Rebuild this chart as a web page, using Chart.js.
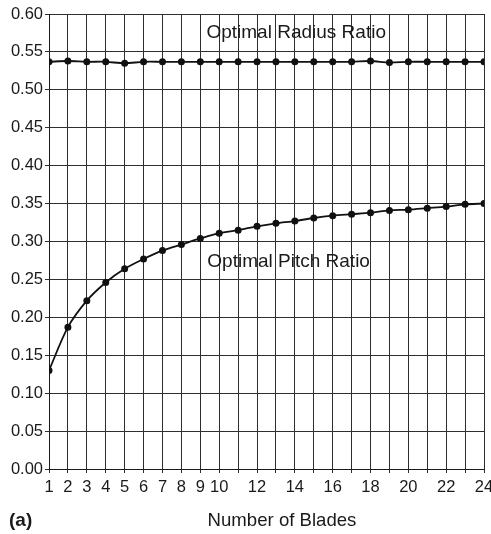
<!DOCTYPE html>
<html>
<head>
<meta charset="utf-8">
<script src="https://cdn.jsdelivr.net/npm/chart.js@4"></script>
<style>
html,body{margin:0;padding:0;background:#fff;}
#wrap{width:491px;height:534px;position:relative;}
</style>
</head>
<body>
<div id="wrap"><canvas id="c"></canvas></div>
<script>
const blades = [1,2,3,4,5,6,7,8,9,10,11,12,13,14,15,16,17,18,19,20,21,22,23,24];
const radiusRatio = [0.537,0.538,0.537,0.537,0.535,0.537,0.537,0.537,0.537,0.537,0.537,0.537,0.537,0.537,0.537,0.537,0.537,0.538,0.536,0.537,0.537,0.537,0.537,0.537];
const pitchRatio = [0.130,0.187,0.222,0.246,0.264,0.277,0.288,0.296,0.304,0.311,0.315,0.320,0.324,0.327,0.331,0.334,0.336,0.338,0.341,0.342,0.344,0.346,0.349,0.350];
const xLabelsShown = [1,2,3,4,5,6,7,8,9,10,12,14,16,18,20,22,24];
const yMin = 0, yMax = 0.60, yStep = 0.05;
const seriesLabels = ["Optimal Radius Ratio","Optimal Pitch Ratio"];
const labelAnchors = [{x:14.07,y:0.575},{x:13.67,y:0.273}];
const xTitle = "Number of Blades";
const panelTag = "(a)";

const FONT = "'Liberation Sans', Arial, Helvetica, sans-serif";

const textPlugin = {
  id:'texts',
  afterDatasetsDraw(chart){
    const {ctx, scales:{x,y}} = chart;
    ctx.save();
    ctx.fillStyle = '#1a1a1a';
    ctx.textAlign = 'center';
    ctx.textBaseline = 'middle';
    ctx.font = "19px " + FONT;
    seriesLabels.forEach((t,i)=>{
      ctx.fillText(t, x.getPixelForValue(labelAnchors[i].x), y.getPixelForValue(labelAnchors[i].y));
    });
    ctx.font = "18.6px " + FONT;
    ctx.fillText(xTitle, 282, 521);
    ctx.font = "bold 19px " + FONT;
    ctx.textAlign = 'left';
    ctx.fillText(panelTag, 9, 521);
    ctx.restore();
  }
};

const toPts = (vals)=>blades.map((b,i)=>({x:b,y:vals[i]}));

new Chart(document.getElementById('c'), {
  type:'line',
  data:{
    datasets:[
      {label:seriesLabels[0], data:toPts(radiusRatio), borderColor:'#111', backgroundColor:'#111', borderWidth:1.8, pointRadius:2.6, pointHoverRadius:2.6, tension:0.3, fill:false},
      {label:seriesLabels[1], data:toPts(pitchRatio), borderColor:'#111', backgroundColor:'#111', borderWidth:1.8, pointRadius:2.6, pointHoverRadius:2.6, tension:0.3, fill:false}
    ]
  },
  options:{
    responsive:true,
    maintainAspectRatio:false,
    animation:false,
    events:[],
    layout:{padding:{left:0,right:7,top:14,bottom:0}},
    plugins:{legend:{display:false}, tooltip:{enabled:false}},
    scales:{
      x:{
        type:'linear', min:1, max:24,
        afterFit(s){ s.height = 65; s.paddingLeft = 0; s.paddingRight = 0; },
        afterBuildTicks(s){ s.ticks = blades.map(v=>({value:v})); },
        ticks:{
          autoSkip:false, maxRotation:0, padding:5, color:'#1a1a1a',
          font:{family:FONT, size:16.5},
          callback:(v)=> xLabelsShown.includes(v) ? String(v) : ''
        },
        grid:{color:'#2e2e2e', lineWidth:1, tickLength:4, drawTicks:true},
        border:{color:'#1a1a1a', width:1}
      },
      y:{
        type:'linear', min:yMin, max:yMax,
        afterFit(s){ s.width = 49; s.paddingTop = 0; s.paddingBottom = 0; },
        ticks:{
          stepSize:yStep, padding:2, color:'#1a1a1a',
          font:{family:FONT, size:16.5},
          callback:(v)=> Number(v).toFixed(2)
        },
        grid:{color:'#2e2e2e', lineWidth:1, tickLength:4},
        border:{color:'#1a1a1a', width:1}
      }
    }
  },
  plugins:[textPlugin]
});
</script>
</body>
</html>
